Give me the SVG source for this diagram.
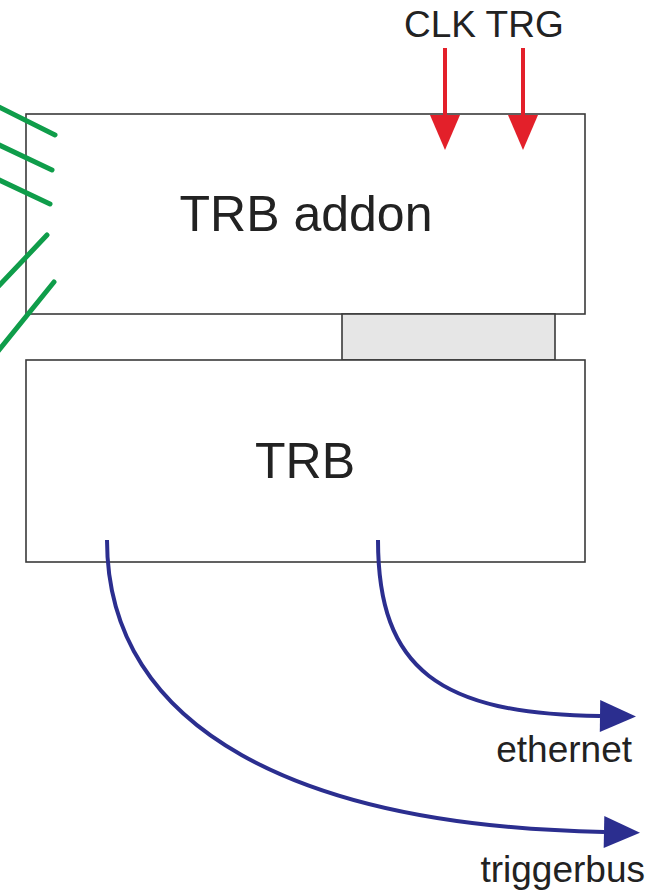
<svg xmlns="http://www.w3.org/2000/svg" width="658" height="892" viewBox="0 0 658 892">
<style>
.box{fill:#fff;stroke:#3a3a3a;stroke-width:1.6}
.conn{fill:#e6e6e6;stroke:#3a3a3a;stroke-width:1.6}
.big{font-family:"Liberation Sans",Arial,sans-serif;font-size:50px;fill:#222;text-anchor:middle}
.small{font-family:"Liberation Sans",Arial,sans-serif;font-size:37px;fill:#222}
.red{stroke:#e3202a;stroke-width:4;fill:none}
.blue{stroke:#2b2e8f;stroke-width:4;fill:none}
.green{stroke:#0f9d4a;stroke-width:5;stroke-linecap:round;fill:none}
</style>
<defs>
<marker id="ar" markerUnits="userSpaceOnUse" markerWidth="40" markerHeight="40" refX="0" refY="16" orient="auto" overflow="visible">
<path d="M0,0 L36,16 L0,32 Z" fill="#2b2e8f"/>
</marker>
</defs>
<rect width="658" height="892" fill="#fff"/>
<g id="trb-addon">
<rect class="box" x="26" y="114" width="559" height="200"/>
<text class="big" x="306" y="231">TRB addon</text>
</g>
<g id="connector-board">
<rect class="conn" x="342" y="314" width="213" height="46"/>
</g>
<g id="trb">
<rect class="box" x="26" y="360" width="559" height="202"/>
<text class="big" x="305" y="478">TRB</text>
</g>
<g id="green-lines">
<line class="green" x1="-5" y1="105" x2="55" y2="135"/>
<line class="green" x1="-5" y1="143" x2="52" y2="170"/>
<line class="green" x1="-5" y1="178" x2="50" y2="204"/>
<line class="green" x1="47" y1="235" x2="-5" y2="290"/>
<line class="green" x1="54" y1="282" x2="-5" y2="355"/>
</g>
<g id="labels">
<text class="small" x="404" y="37">CLK TRG</text>
<text class="small" x="632" y="762" text-anchor="end">ethernet</text>
<text class="small" x="645" y="882" text-anchor="end">triggerbus</text>
</g>
<g id="connectors">
<line class="red" x1="445" y1="48" x2="445" y2="118"/>
<path d="M430,115 L460,115 L445,150 Z" fill="#e3202a"/>
<line class="red" x1="523" y1="48" x2="523" y2="118"/>
<path d="M508,115 L538,115 L523,150 Z" fill="#e3202a"/>
<path class="blue" d="M378,540 C378,670 440,714 600,716" marker-end="url(#ar)"/>
<path class="blue" d="M107,540 C107,730 300,826 604,832" marker-end="url(#ar)"/>
</g>
</svg>
